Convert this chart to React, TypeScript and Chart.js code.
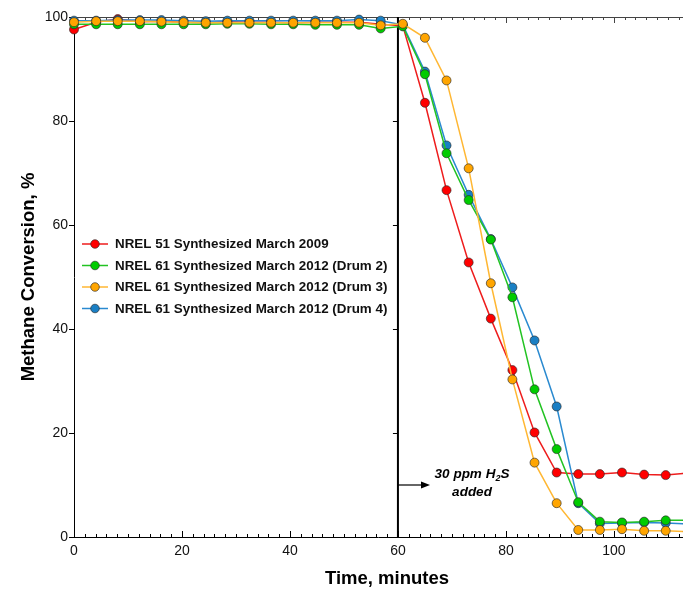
import React, { useEffect, useRef } from 'react';
import { Chart, registerables } from 'chart.js';
Chart.register(...registerables);

// Time (minutes)
const times = [0, 4.1, 8.1, 12.2, 16.2, 20.3, 24.4, 28.4, 32.5, 36.5, 40.6, 44.7, 48.7, 52.8, 56.8, 60.9, 65.0, 69.0, 73.1, 77.2, 81.2, 85.3, 89.4, 93.4, 97.4, 101.5, 105.6, 109.6, 113.7];

// Methane conversion, %
const nrel51 = [97.6, 99.0, 99.6, 99.1, 99.2, 99.0, 98.9, 99.1, 99.0, 99.0, 98.9, 99.0, 99.0, 99.0, 98.6, 98.3, 83.5, 66.7, 52.8, 42.0, 32.1, 20.1, 12.4, 12.1, 12.1, 12.4, 12.0, 11.9, 12.3];
const drum2 = [98.6, 98.6, 98.6, 98.6, 98.6, 98.6, 98.6, 98.7, 98.7, 98.6, 98.6, 98.5, 98.5, 98.5, 97.8, 98.2, 89.0, 73.8, 64.8, 57.2, 46.1, 28.4, 16.9, 6.7, 2.95, 2.8, 2.95, 3.2, 3.2];
const drum3 = [99.0, 99.2, 99.2, 99.2, 99.1, 99.0, 98.9, 98.9, 98.9, 98.9, 98.9, 98.9, 98.9, 98.9, 98.4, 98.7, 96.0, 87.8, 70.9, 48.8, 30.3, 14.3, 6.5, 1.35, 1.35, 1.5, 1.2, 1.2, 1.0];
const drum4 = [99.3, 99.3, 99.4, 99.4, 99.4, 99.3, 99.2, 99.3, 99.3, 99.3, 99.3, 99.3, 99.3, 99.5, 99.3, 98.5, 89.5, 75.3, 65.8, 57.3, 48.0, 37.8, 25.1, 6.5, 2.6, 2.7, 2.8, 2.7, 2.5];

const seriesLabels = [
  'NREL 51 Synthesized March 2009',
  'NREL 61 Synthesized March 2012 (Drum 2)',
  'NREL 61 Synthesized March 2012 (Drum 3)',
  'NREL 61 Synthesized March 2012 (Drum 4)',
];
const seriesValues = [nrel51, drum2, drum3, drum4];
const lineColors = ['#ee1c1c', '#22c322', '#ffb733', '#2a8ad0'];
const pointColors = ['#ff0000', '#00cc00', '#ffa500', '#1a7fc4'];
const drawOrder = [3, 1, 0, 2];

const xTickValues = [0, 20, 40, 60, 80, 100];
const xTickLabels = ['0', '20', '40', '60', '80', '100'];
const yTickValues = [0, 20, 40, 60, 80, 100];
const yTickLabels = ['0', '20', '40', '60', '80', '100'];

const xTitle = 'Time, minutes';
const yTitle = 'Methane Conversion, %';
const h2sTime = 60;
const noteLine1 = ['30 ppm H', '2', 'S'];
const noteLine2 = 'added';

const FONT = '"Liberation Sans", Arial, sans-serif';

const overlay = {
  id: 'overlay',
  beforeDatasetsDraw(chart: any) {
    const { ctx, chartArea: a, scales } = chart;
    const x = scales.x, y = scales.y;
    const seg = (x1: number, y1: number, x2: number, y2: number) => {
      ctx.beginPath(); ctx.moveTo(x1, y1); ctx.lineTo(x2, y2); ctx.stroke();
    };
    ctx.save();
    ctx.lineWidth = 1;
    // top frame
    ctx.strokeStyle = '#444';
    seg(a.left, a.top + 0.5, a.right, a.top + 0.5);
    // axes
    ctx.strokeStyle = '#000';
    seg(a.left + 0.5, a.top, a.left + 0.5, a.bottom + 1);
    seg(a.left, a.bottom + 0.5, a.right, a.bottom + 0.5);
    // x minor/major ticks (inside, bottom and top)
    for (let v = 0; v <= x.max; v += 2) {
      const px = Math.round(x.getPixelForValue(v)) + 0.5;
      const major = v % 20 === 0;
      const len = major ? 6 : 3;
      ctx.strokeStyle = '#000';
      seg(px, a.bottom, px, a.bottom - len);
      ctx.strokeStyle = '#444';
      seg(px, a.top, px, a.top + len);
    }
    // y ticks (outside)
    ctx.strokeStyle = '#000';
    yTickValues.forEach((v) => {
      const py = Math.round(y.getPixelForValue(v)) + 0.5;
      seg(a.left - 5, py, a.left, py);
    });
    // H2S introduction line
    const lx = x.getPixelForValue(h2sTime);
    ctx.lineWidth = 2;
    seg(lx, a.top, lx, a.bottom);
    ctx.lineWidth = 1;
    yTickValues.forEach((v) => {
      if (v === 0 || v === 100) return;
      const py = Math.round(y.getPixelForValue(v)) + 0.5;
      seg(lx - 5, py, lx, py);
    });
    ctx.restore();
  },
  afterDatasetsDraw(chart: any) {
    const { ctx, scales } = chart;
    const x = scales.x;
    ctx.save();
    // legend
    const rowY = [244, 265.5, 287, 308.5];
    seriesLabels.forEach((label, i) => {
      const cy = rowY[i];
      ctx.strokeStyle = lineColors[i];
      ctx.lineWidth = 1.5;
      ctx.beginPath(); ctx.moveTo(82, cy); ctx.lineTo(108, cy); ctx.stroke();
      ctx.beginPath(); ctx.arc(95, cy, 4.3, 0, Math.PI * 2);
      ctx.fillStyle = pointColors[i]; ctx.fill();
      ctx.strokeStyle = 'rgba(40,40,40,0.8)'; ctx.lineWidth = 0.8; ctx.stroke();
      ctx.fillStyle = '#111';
      ctx.font = `bold 13.4px ${FONT}`;
      ctx.textAlign = 'left';
      ctx.textBaseline = 'middle';
      ctx.fillText(label, 115, cy + 0.5);
    });
    // arrow
    const lx = x.getPixelForValue(h2sTime);
    const ay = 485;
    ctx.strokeStyle = '#000'; ctx.fillStyle = '#000'; ctx.lineWidth = 1.2;
    ctx.beginPath(); ctx.moveTo(lx, ay); ctx.lineTo(424, ay); ctx.stroke();
    ctx.beginPath(); ctx.moveTo(430, ay); ctx.lineTo(421, ay - 3.5); ctx.lineTo(421, ay + 3.5); ctx.closePath(); ctx.fill();
    // note text
    const cx = 472;
    const big = `italic bold 13.5px ${FONT}`;
    const small = `italic bold 9px ${FONT}`;
    ctx.textBaseline = 'alphabetic';
    ctx.textAlign = 'left';
    ctx.font = big; const w1 = ctx.measureText(noteLine1[0]).width; const w3 = ctx.measureText(noteLine1[2]).width;
    ctx.font = small; const w2 = ctx.measureText(noteLine1[1]).width;
    let sx = cx - (w1 + w2 + w3) / 2;
    const base1 = 478;
    ctx.font = big; ctx.fillText(noteLine1[0], sx, base1); sx += w1;
    ctx.font = small; ctx.fillText(noteLine1[1], sx, base1 + 3); sx += w2;
    ctx.font = big; ctx.fillText(noteLine1[2], sx, base1);
    ctx.textAlign = 'center';
    ctx.fillText(noteLine2, cx, 496);
    // axis titles
    ctx.fillStyle = '#000';
    ctx.font = `bold 18.5px ${FONT}`;
    ctx.textAlign = 'center';
    ctx.textBaseline = 'middle';
    ctx.fillText(xTitle, 387, 579);
    ctx.translate(29, 277);
    ctx.rotate(-Math.PI / 2);
    ctx.fillText(yTitle, 0, 0);
    ctx.restore();
  },
};

export default function App() {
  const ref = useRef<HTMLCanvasElement>(null);
  useEffect(() => {
    if (!ref.current) return;
    const chart = new Chart(ref.current, {
      type: 'line',
      data: {
        datasets: seriesValues.map((vals, i) => ({
          label: seriesLabels[i],
          data: vals.map((v, j) => ({ x: times[j], y: v })),
          borderColor: lineColors[i],
          borderWidth: 1.5,
          pointBackgroundColor: pointColors[i],
          pointBorderColor: 'rgba(40,40,40,0.8)',
          pointBorderWidth: 0.8,
          pointRadius: 4.5,
          tension: 0,
          order: drawOrder[i],
          clip: { left: 6, top: 10, right: 0, bottom: 6 },
        })),
      },
      options: {
        animation: false,
        responsive: false,
        maintainAspectRatio: false,
        layout: { autoPadding: false, padding: { top: 17, left: 0, right: 0, bottom: 0 } },
        plugins: { legend: { display: false }, tooltip: { enabled: false }, title: { display: false } },
        scales: {
          x: {
            type: 'linear',
            min: 0,
            max: 112.8,
            grid: { display: false, drawTicks: false },
            border: { display: false },
            afterBuildTicks: (s: any) => { s.ticks = xTickValues.map((v) => ({ value: v })); },
            afterFit: (s: any) => { s.height = 53; s.paddingRight = 0; s.paddingLeft = 0; },
            ticks: {
              includeBounds: false,
              padding: 6,
              color: '#111',
              font: { family: FONT, size: 14 },
              maxRotation: 0,
              callback: (v: any) => { const k = xTickValues.indexOf(Number(v)); return k >= 0 ? xTickLabels[k] : ''; },
            },
          },
          y: {
            type: 'linear',
            min: 0,
            max: 100,
            grid: { display: false, drawTicks: false },
            border: { display: false },
            afterBuildTicks: (s: any) => { s.ticks = yTickValues.map((v) => ({ value: v })); },
            afterFit: (s: any) => { s.width = 74; s.paddingTop = 0; s.paddingBottom = 0; },
            ticks: {
              padding: 6,
              color: '#111',
              font: { family: FONT, size: 14 },
              callback: (v: any) => { const k = yTickValues.indexOf(Number(v)); return k >= 0 ? yTickLabels[k] : ''; },
            },
          },
        },
      },
      plugins: [overlay],
    });
    return () => chart.destroy();
  }, []);
  return (
    <div style={{ position: 'fixed', left: 0, top: 0, width: 683, height: 590, background: '#fff' }}>
      <canvas ref={ref} width={683} height={590} style={{ width: 683, height: 590, display: 'block' }} />
    </div>
  );
}
